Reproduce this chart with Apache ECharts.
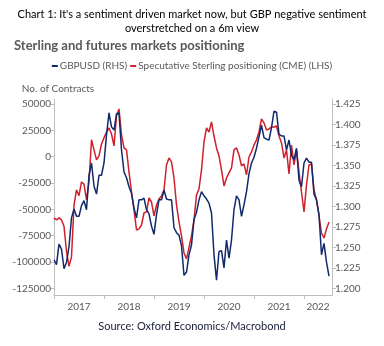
<!DOCTYPE html>
<html>
<head>
<meta charset="utf-8">
<script src="https://cdn.jsdelivr.net/npm/echarts@6/dist/echarts.min.js"></script>
<style>
  html, body { margin: 0; padding: 0; background: #ffffff; }
  #chart { width: 384px; height: 346px; }
</style>
</head>
<body>
<div id="chart"></div>
<script>
// Observation dates as decimal years, one roughly every 18 days from Jan 2017
const obsDates = Array.from({ length: 111 }, (_, i) => +(2017 + i * 0.05).toFixed(2));

// GBPUSD spot (right-hand scale)
const gbpusd = [
  1.235, 1.229, 1.254, 1.248, 1.224, 1.232, 1.251, 1.286, 1.297, 1.288,
  1.288, 1.301, 1.307, 1.296, 1.338, 1.353, 1.325, 1.315, 1.338, 1.338,
  1.353, 1.387, 1.414, 1.397, 1.393, 1.413, 1.414, 1.369, 1.342, 1.335,
  1.324, 1.316, 1.298, 1.286, 1.308, 1.308, 1.310, 1.296, 1.291, 1.276,
  1.266, 1.290, 1.308, 1.308, 1.320, 1.309, 1.308, 1.308, 1.274, 1.268,
  1.265, 1.252, 1.216, 1.220, 1.241, 1.253, 1.284, 1.293, 1.308, 1.318,
  1.313, 1.309, 1.304, 1.292, 1.241, 1.210, 1.245, 1.246, 1.225, 1.259,
  1.237, 1.259, 1.296, 1.313, 1.308, 1.288, 1.302, 1.318, 1.340, 1.353,
  1.360, 1.371, 1.385, 1.399, 1.384, 1.382, 1.381, 1.396, 1.416, 1.415,
  1.388, 1.386, 1.386, 1.369, 1.381, 1.362, 1.357, 1.371, 1.332, 1.324,
  1.353, 1.359, 1.354, 1.354, 1.315, 1.308, 1.290, 1.241, 1.255, 1.232,
  1.215
];

// CME speculative net sterling positioning, contracts (left-hand scale)
const cmePositioning = [
  -58000, -60000, -58000, -60000, -66000, -90000, -104000, -95000, -46000, -31500,
  -37000, -24000, -26000, -41000, -24000, 16000, 6400, -3100, 700, 12000,
  17800, 23400, 27200, 21500, 10200, 38600, 45300, 20600, 8300, 6400,
  -14500, -33500, -50500, -69500, -68500, -64800, -53400, -52400, -39200, -43000,
  -56200, -45800, -40100, -37300, -31600, -7900, -1200, -5000, -20200, -45800,
  -61900, -75200, -91300, -97000, -86000, -75200, -60000, -36300, -30600, -12600,
  14000, 27200, 23400, 32900, 19600, 8300, 700, -12600, -27800, -20200,
  -15400, -10700, 6400, 8300, 1600, -8800, -6900, -17300, -300, 4500,
  11100, 16000, 23400, 35800, 32000, 25300, 26300, 28200, 28200, 29100,
  19600, 13000, -1200, 6400, -16400, 11100, -7900, 6400, -14500, -33500,
  -52400, -26800, -7900, -6900, -31600, -41000, -56200, -72400, -77100, -68500,
  -61900
];

// Axis tick labels
const yearTicks = [2017, 2018, 2019, 2020, 2021, 2022];
const yearLabelSpots = [2017.5, 2018.5, 2019.5, 2020.5, 2021.5, 2022.28];
const contractTicks = [-125000, -100000, -75000, -50000, -25000, 0, 25000, 50000];
const fxTicks = [1.200, 1.225, 1.250, 1.275, 1.300, 1.325, 1.350, 1.375, 1.400, 1.425];

const seriesNames = ['GBPUSD (RHS)', 'Specutative Sterling positioning (CME) (LHS)'];

const FONT = 'Lato, "Open Sans", sans-serif';
const GREY_TEXT = '#595959';
const AXIS_GREY = '#bfbfbf';

const chart = echarts.init(document.getElementById('chart'), null, { renderer: 'canvas' });

chart.setOption({
  animation: false,
  backgroundColor: '#ffffff',
  textStyle: { fontFamily: FONT },
  title: [
    {
      text: "Chart 1: It's a sentiment driven market now, but GBP negative sentiment\noverstretched on a 6m view",
      left: 'center',
      top: 2,
      textStyle: { fontFamily: FONT, fontSize: 11, fontWeight: 'normal', color: '#000000', lineHeight: 14 }
    },
    {
      text: 'Sterling and futures markets positioning',
      left: 9,
      top: 34,
      textStyle: { fontFamily: FONT, fontSize: 13, fontWeight: 'bold', color: GREY_TEXT }
    },
    {
      text: 'Source: Oxford Economics/Macrobond',
      left: 'center',
      top: 316,
      textStyle: { fontFamily: FONT, fontSize: 11, fontWeight: 'normal', color: '#1b1f3a' }
    }
  ],
  legend: {
    data: seriesNames,
    top: 56,
    left: 'center',
    icon: 'rect',
    itemWidth: 6,
    itemHeight: 2,
    itemGap: 3,
    textStyle: { fontFamily: FONT, fontSize: 10, color: GREY_TEXT, padding: [0, 0, 0, -3] }
  },
  grid: { left: 54, right: 52, top: 99, bottom: 51, containLabel: false },
  xAxis: {
    type: 'value',
    min: 2017,
    max: 2022.56,
    splitLine: { show: false },
    axisLine: { show: true, onZero: false, lineStyle: { color: AXIS_GREY, width: 1 } },
    axisTick: { show: true, length: 4, lineStyle: { color: AXIS_GREY }, customValues: yearTicks },
    axisLabel: {
      customValues: yearLabelSpots,
      formatter: v => String(Math.floor(v)),
      color: GREY_TEXT,
      fontFamily: FONT,
      fontSize: 10,
      margin: 7
    }
  },
  yAxis: [
    {
      type: 'value',
      position: 'left',
      min: -131200,
      max: 54700,
      name: 'No. of Contracts',
      nameLocation: 'end',
      nameGap: 5,
      nameTextStyle: { fontFamily: FONT, fontSize: 10, color: GREY_TEXT, align: 'center', padding: [0, 0, 0, 8] },
      splitLine: { show: false },
      axisLine: { show: true, lineStyle: { color: AXIS_GREY, width: 1 } },
      axisTick: { show: true, length: 4, lineStyle: { color: AXIS_GREY }, customValues: contractTicks },
      axisLabel: {
        customValues: contractTicks,
        formatter: v => String(v),
        color: GREY_TEXT,
        fontFamily: FONT,
        fontSize: 10,
        margin: 3
      }
    },
    {
      type: 'value',
      position: 'right',
      min: 1.192,
      max: 1.431,
      splitLine: { show: false },
      axisLine: { show: true, lineStyle: { color: AXIS_GREY, width: 1 } },
      axisTick: { show: true, length: 4, lineStyle: { color: AXIS_GREY }, customValues: fxTicks },
      axisLabel: {
        customValues: fxTicks,
        formatter: v => v.toFixed(3),
        color: GREY_TEXT,
        fontFamily: FONT,
        fontSize: 10,
        margin: 3
      }
    }
  ],
  series: [
    {
      name: seriesNames[1],
      type: 'line',
      yAxisIndex: 0,
      data: obsDates.map((d, i) => [d, cmePositioning[i]]),
      showSymbol: false,
      smooth: false,
      lineStyle: { color: '#d0202e', width: 1.5 },
      itemStyle: { color: '#d0202e' }
    },
    {
      name: seriesNames[0],
      type: 'line',
      yAxisIndex: 1,
      data: obsDates.map((d, i) => [d, gbpusd[i]]),
      showSymbol: false,
      smooth: false,
      lineStyle: { color: '#112a6c', width: 1.5 },
      itemStyle: { color: '#112a6c' }
    }
  ]
});
</script>
</body>
</html>
